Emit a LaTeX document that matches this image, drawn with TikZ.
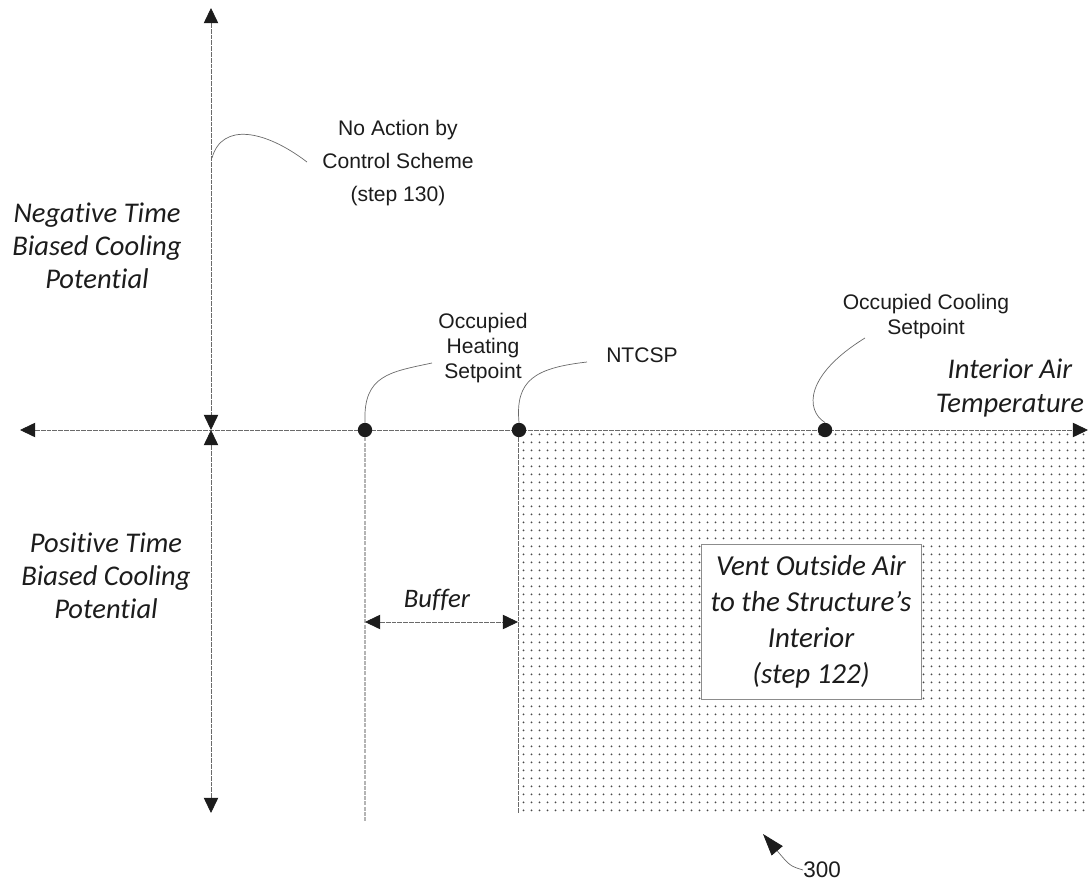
\documentclass[tikz,border=0pt]{standalone}
\usepackage{fontspec}
\setmainfont{Liberation Sans}
\newfontfamily\calib[Ligatures=NoCommon]{Carlito}
\usetikzlibrary{arrows.meta, patterns.meta}

\definecolor{ink}{HTML}{1C1C1C}
\definecolor{axisline}{HTML}{6A6A6A}
\definecolor{guide}{HTML}{B4B4B4}
\definecolor{speck}{HTML}{4A4A4A}
\definecolor{framegray}{HTML}{8C8C8C}

\tikzdeclarepattern{
  name=ventdots, type=uncolored,
  bounding box={(0,0) and (2mm,2mm)},
  tile size={(2mm,2mm)},
  code={\fill (1mm,1mm) circle (0.28mm);}
}

\tikzset{
  >={Triangle[length=3.8mm, width=3.6mm, color=ink]},
  %
  axis/.style={draw=axisline, line width=0.6pt, dash pattern=on 1.2mm off 0.25mm},
  guideline/.style={draw=guide, line width=0.9pt, dash pattern=on 1mm off 0.3mm},
  callout/.style={draw=axisline, line width=0.5pt},
  setpt/.style={circle, fill=ink, inner sep=0pt, minimum size=3.6mm},
  %
  lbl/.style={font=\fontsize{15}{17.8}\selectfont, text=ink, align=center, inner sep=0pt},
  lblwide/.style={lbl, font=\fontsize{15}{23.4}\selectfont},
  side/.style={font=\calib\itshape\fontsize{20.3}{23.6}\selectfont, text=ink,
               align=center, inner sep=0pt},
  ventbox/.style={draw=framegray, line width=0.6pt, fill=white, align=center,
                  minimum width=55mm, minimum height=38.8mm, text=ink,
                  font=\calib\itshape\fontsize{20.6}{25.5}\selectfont},
  reftag/.style={font=\fontsize{16}{18}\selectfont, text=ink, inner sep=0pt},
}

\begin{document}
\begin{tikzpicture}[x=0.25mm, y=-0.25mm]
\useasboundingbox (0,0) rectangle (1089,886);

% =========================================================================
% axes
\coordinate (o) at (211,430);
\coordinate (top) at (211,8);
\coordinate (bot) at (211,813);
\coordinate (lft) at (20,430);
\coordinate (rgt) at (1088,430);

% vent region
\fill[pattern=ventdots, pattern color=speck] (518,431) rectangle (1085,813);
\draw[axis, line width=0.4pt] (518,431) -- (518,813);

\draw[axis, <->] (lft) -- (rgt);
\draw[axis, <->] (top) -- (o);
\draw[axis, <->] (bot) -- (o);

% =========================================================================
% setpoints
\node[setpt] (ohs) at (365,430) {};
\node[setpt] (ntc) at (519,430) {};
\node[setpt] (ocs) at (825,430) {};

\coordinate (ohsfoot) at (365,822);
\draw[guideline] (ohs) -- (ohsfoot);

\node[lbl] (ohslbl) at (483,348) {Occupied\\Heating\\Setpoint};
\node[lbl] (ntclbl) at (642,355) {NTCSP};
\node[lbl] (ocslbl) at (926,317) {Occupied Cooling\\Setpoint};

\coordinate (ohsend) at (432,363);
\coordinate (ntcend) at (587,362);
\coordinate (ocsend) at (865,338);
\draw[callout] (ohs.north) .. controls (363,375) and (390,372) .. (ohsend);
\draw[callout] (ntc.north) .. controls (515,380) and (535,368) .. (ntcend);
\draw[callout] (ocs.north) .. controls (805,410) and (805,375) .. (ocsend);

% =========================================================================
% no action callout
\node[lblwide] (nact) at (398,163) {No Action by\\Control Scheme\\(step 130)};
\coordinate (nastart) at (212,158);
\coordinate (naend) at (307,162);
\draw[callout] (nastart) .. controls (222,122) and (265,130) .. (naend);

% =========================================================================
% side labels
\node[side] (negt) at (97,246) {Negative Time\\Biased Cooling\\Potential};
\node[side] (post) at (106,576) {Positive Time\\Biased Cooling\\Potential};
\node[side] (iat) at (1010,388) {Interior Air\\Temperature};

% =========================================================================
% buffer
\coordinate (bufl) at (365,622);
\coordinate (bufr) at (518,622);
\draw[axis, <->] (bufl) -- (bufr);
\node[side, font=\calib\itshape\fontsize{19}{22}\selectfont] (buf) at (437,600) {Buffer};

\node[ventbox] (vent) at (811,622)
  {Vent Outside Air\\to the Structure’s\\Interior\\(step 122)};

% =========================================================================
% figure reference
\node[reftag, anchor=west] (fig) at (803,870) {300};
\coordinate (figtip) at (763,834);
\draw[callout, -{Triangle[length=5.5mm, width=3.6mm, color=ink]}]
  (fig.west) .. controls (790,866) .. (figtip);

\end{tikzpicture}
\end{document}
